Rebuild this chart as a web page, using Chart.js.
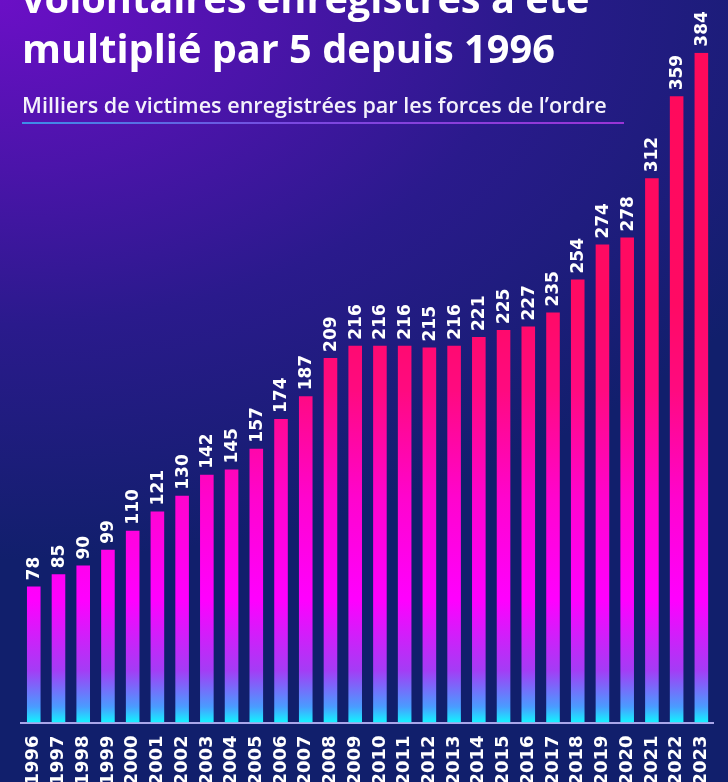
<!DOCTYPE html>
<html lang="fr">
<head>
<meta charset="utf-8">
<script src="https://cdn.jsdelivr.net/npm/chart.js@4.4.1/dist/chart.umd.min.js"></script>
<style>
  html, body { margin: 0; padding: 0; }
  body {
    width: 728px; height: 782px; overflow: hidden; position: relative;
    background-color: #0f1f68;
    background-image: radial-gradient(ellipse 900px 560px at 0% 0%, #6b0fc6 0%, #4b14aa 30%, #2a1a8c 58%, #111f6c 100%);
  }
  #chart { position: absolute; left: 0; top: 0; }
  .title {
    position: absolute; left: 22px; top: -27px; margin: 0;
    font-family: "Open Sans", sans-serif; font-weight: 700; font-size: 40px;
    line-height: 50px; color: #fff; white-space: nowrap;
  }
  .subtitle {
    position: absolute; left: 22px; top: 93px; margin: 0;
    font-family: "Open Sans", sans-serif; font-weight: 600; font-size: 21px;
    line-height: 24px; color: #f4f2fb; white-space: nowrap;
  }
  .rule {
    position: absolute; left: 22px; top: 122px; width: 602px; height: 2px;
    background: linear-gradient(90deg, #3d8ee8 0%, #7a48e0 45%, #9a34d6 100%);
  }
</style>
</head>
<body>
<canvas id="chart" width="728" height="782"></canvas>
<h1 class="title" data-w="533">volontaires enregistrés a été<br>multiplié par 5 depuis 1996</h1>
<p class="subtitle" data-w="585">Milliers de victimes enregistrées par les forces de l’ordre</p>
<div class="rule"></div>
<script>
// données
const years = ['1996', '1997', '1998', '1999', '2000', '2001', '2002', '2003', '2004', '2005',
  '2006', '2007', '2008', '2009', '2010', '2011', '2012', '2013', '2014', '2015',
  '2016', '2017', '2018', '2019', '2020', '2021', '2022', '2023'];
const victims = [78, 85, 90, 99, 110, 121, 130, 142, 145, 157,
  174, 187, 209, 216, 216, 216, 215, 216, 221, 225,
  227, 235, 254, 274, 278, 312, 359, 384];

// ajuster la largeur des textes
document.querySelectorAll('[data-w]').forEach(el => {
  const target = parseFloat(el.dataset.w);
  const lines = el.innerHTML.split('<br>');
  const span = document.createElement('span');
  span.style.cssText = 'position:absolute;visibility:hidden;white-space:nowrap;font:inherit;';
  el.appendChild(span);
  span.textContent = lines[lines.length - 1];
  const w = span.getBoundingClientRect().width;
  el.removeChild(span);
  const size = parseFloat(getComputedStyle(el).fontSize);
  el.style.fontSize = (size * target / w).toFixed(2) + 'px';
});

// dégradé des barres (fixé sur l'axe y)
function barGradient(context) {
  const chart = context.chart;
  const y = chart.scales.y;
  if (!chart.chartArea || !y) return '#ff00ff';
  const y0 = y.getPixelForValue(0);
  const y1 = y.getPixelForValue(384);
  const g = chart.ctx.createLinearGradient(0, y0, 0, y1);
  const stop = v => Math.min(1, v / 384);
  g.addColorStop(0, '#12f4ff');
  g.addColorStop(stop(9), '#4a9cff');
  g.addColorStop(stop(30), '#a43cf5');
  g.addColorStop(stop(70), '#ff00ff');
  g.addColorStop(stop(130), '#ff04cc');
  g.addColorStop(stop(190), '#ff0a80');
  g.addColorStop(stop(240), '#ff0a64');
  g.addColorStop(1, '#ff0a5a');
  return g;
}

// étiquettes de valeurs verticales
const valueLabels = {
  id: 'valueLabels',
  afterDatasetsDraw(chart) {
    const { ctx } = chart;
    const meta = chart.getDatasetMeta(0);
    ctx.save();
    ctx.font = 'bold 17px "DejaVu Sans"';
    ctx.fillStyle = '#ffffff';
    ctx.textAlign = 'left';
    ctx.textBaseline = 'middle';
    meta.data.forEach((bar, i) => {
      ctx.save();
      ctx.translate(bar.x, bar.y - 6);
      ctx.rotate(-Math.PI / 2);
      ctx.fillText(String(victims[i]), 0, 1);
      ctx.restore();
    });
    ctx.restore();
  }
};

new Chart(document.getElementById('chart'), {
  type: 'bar',
  data: {
    labels: years,
    datasets: [{
      data: victims,
      backgroundColor: barGradient,
      borderWidth: 0,
      barPercentage: 0.55,
      categoryPercentage: 1
    }]
  },
  options: {
    responsive: false,
    animation: false,
    layout: { padding: { top: 52.7, left: 21.4, right: 2.4, bottom: 0 } },
    plugins: { legend: { display: false }, tooltip: { enabled: false }, title: { display: false } },
    scales: {
      x: {
        grid: { display: false },
        border: { display: true, color: '#a9a6ea', width: 2 },
        ticks: {
          color: '#ffffff',
          font: { family: 'DejaVu Sans', weight: 'bold', size: 18 },
          minRotation: 90, maxRotation: 90,
          autoSkip: false,
          padding: 5
        },
        afterFit(scale) { scale.height = 59.5; }
      },
      y: {
        display: false,
        min: 0,
        max: 384
      }
    }
  },
  plugins: [valueLabels]
});
</script>
</body>
</html>
